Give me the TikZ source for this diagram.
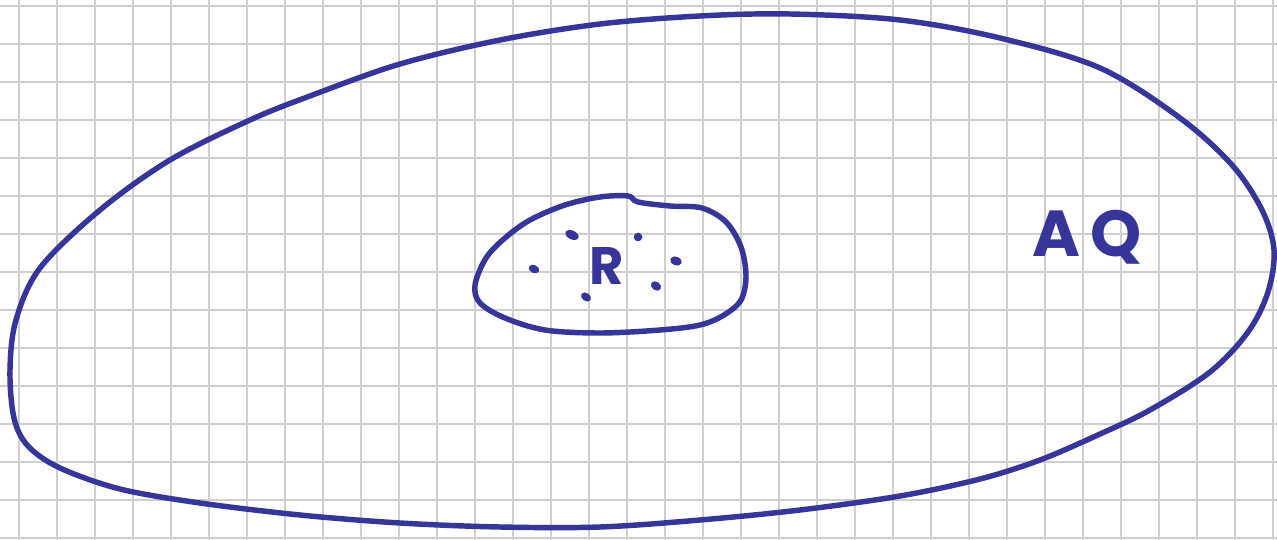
\documentclass[tikz,border=0pt]{standalone}
\usepackage{fontspec}
\setmainfont{Poppins}
\definecolor{ink}{HTML}{35359A}
\definecolor{gridc}{HTML}{CFCFCF}
\tikzset{
  gridline/.style={draw=gridc, line width=1.1pt},
  inkline/.style={draw=ink, line width=3.1pt, line cap=round, line join=round},
  inkdot/.style={fill=ink, draw=none},
  label/.style={text=ink, inner sep=0pt}
}
\begin{document}
\begin{tikzpicture}[x=0.02cm, y=-0.02cm]
\useasboundingbox (0,0) rectangle (1277,540);
\fill[white] (0,0) rectangle (1277,540);
% grid
\foreach \i in {0,...,33} {\draw[gridline] ({19+38*\i},0) -- ({19+38*\i},540);}
\foreach \j in {0,...,14} {\draw[gridline] (0,{6+38*\j}) -- (1277,{6+38*\j});}
% outer region
\draw[inkline] plot[smooth cycle, tension=0.55] coordinates {
 (790,14) (900,20) (1000,38) (1100,68) (1180,118) (1232,165) (1262,210)
 (1274,250) (1268,292) (1248,332) (1210,372) (1150,410) (1100,434)
 (1040,460) (980,479) (900,496) (800,510) (700,520) (600,527) (500,527)
 (400,523) (300,515) (200,503) (120,489) (60,468) (28,446) (14,418)
 (10,370) (16,320) (40,268) (100,210) (170,160) (250,120)
 (310,96) (400,64) (500,40) (600,24) (700,16)};
% inner region R
\draw[inkline] plot[smooth cycle, tension=0.55] coordinates {
 (475,285) (486,258) (505,238) (530,220) (565,205) (600,197) (628,196)
 (638,202) (670,206) (702,208) (726,222) (741,247) (746,276) (741,300)
 (724,315) (700,325) (660,330) (600,333) (545,330) (505,318) (480,303)};
% dots
\fill[inkdot, rotate around={-25:(572,235)}] (572,235) ellipse (7 and 4.4);
\fill[inkdot] (638,237) circle (4.3);
\fill[inkdot, rotate around={-25:(534,269)}] (534,269) ellipse (5.5 and 4);
\fill[inkdot, rotate around={-35:(586,297)}] (586,297) ellipse (5.5 and 4);
\fill[inkdot, rotate around={-35:(656,286)}] (656,286) ellipse (5.5 and 4.2);
\fill[inkdot, rotate around={-20:(676,261)}] (676,261) ellipse (6 and 4.2);
% labels
\node[label, font=\fontsize{30}{30}\selectfont\bfseries] (r) at (607,266) {R};
\node[label, font=\fontsize{37}{37}\selectfont\bfseries] (aq) at (1087,237) {A\,Q};
\end{tikzpicture}
\end{document}
